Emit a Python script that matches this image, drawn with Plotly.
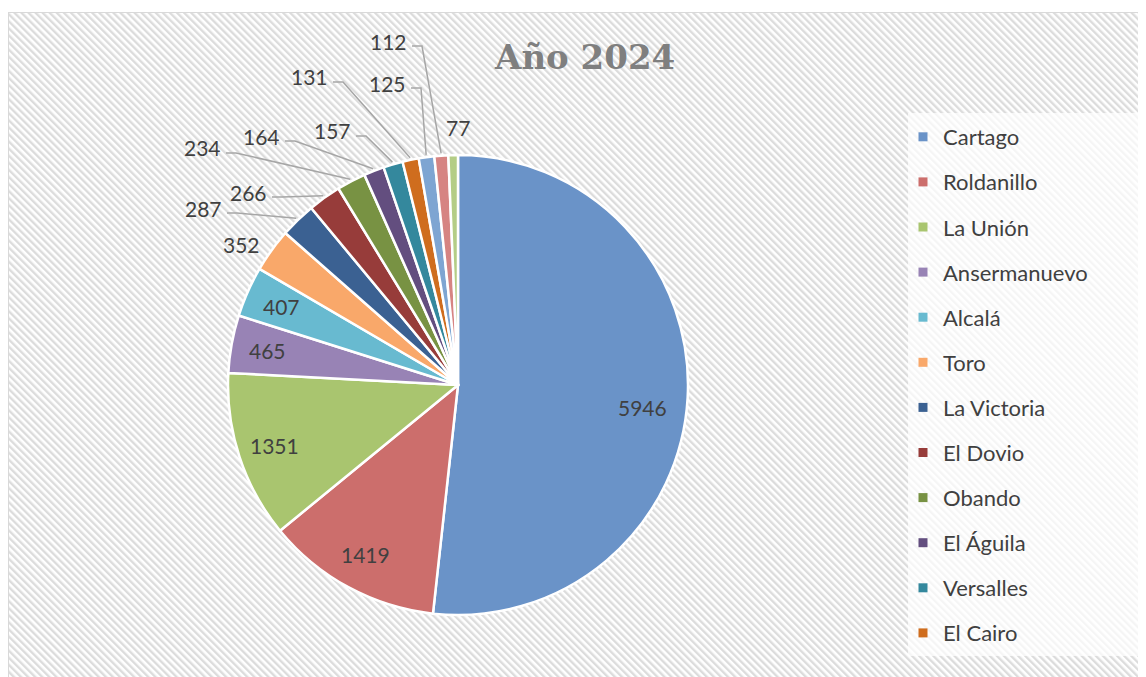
import base64
import math
import plotly.graph_objects as go

# ---------------- data ----------------
municipios = ["Cartago", "Roldanillo", "La Unión", "Ansermanuevo", "Alcalá", "Toro",
              "La Victoria", "El Dovio", "Obando", "El Águila", "Versalles", "El Cairo",
              "Argelia", "Ulloa", "Bolívar"]
casos = [5946, 1419, 1351, 465, 407, 352, 287, 266, 234, 164, 157, 131, 125, 112, 77]
legend_count = 12  # the reference legend only lists the first 12 entries

# ---------------- styles ----------------
colors = ["#6a93c8", "#cc6e6c", "#a9c56f", "#9883b5", "#68bad0", "#f9a86a",
          "#3b6192", "#973c3a", "#789243", "#634e7f", "#34889d", "#cf6d1e",
          "#7ea5d2", "#d68482", "#b4cd86"]
PAGE_OFF = 8                      # default body margin of the html page
W, H = 1146 - PAGE_OFF, 677 - PAGE_OFF
CX, CY, R = 458, 385, 230         # pie centre / radius in page pixels
TXT = "#404040"
FONT = "Lato"

# outside label placement: (text centre in page px, leader line?)
label_layout = {
    6: ((203, 208), True), 7: ((248, 192), True), 8: ((202, 148), True),
    9: ((261, 136), True), 10: ((332, 131), True), 11: ((309, 77), True),
    12: ((387, 83), True), 13: ((388, 41), True), 14: ((458, 127), False),
    5: ((242, 244), False),
}
inside_factor = 0.84
inside_shift = {0: (-8, 12)}      # small nudge of the big-slice label (px)


def X(px):
    return (px - PAGE_OFF) / W


def Y(py):
    return 1 - (py - PAGE_OFF) / H


total = sum(casos)
fig = go.Figure()

fig.add_trace(go.Pie(
    labels=municipios, values=casos, sort=False, direction="clockwise", rotation=0,
    marker=dict(colors=colors, line=dict(color="white", width=2.5)),
    textinfo="none", showlegend=False, hoverinfo="label+value",
    domain=dict(x=[X(CX - R), X(CX + R)], y=[Y(CY + R), Y(CY - R)]),
))

# legend via marker-only entries
for i in range(legend_count):
    fig.add_trace(go.Scatter(
        x=[None], y=[None], mode="markers", name=municipios[i], legendgroup=municipios[i],
        marker=dict(symbol="square", size=9, color=colors[i]), hoverinfo="skip"))

annotations = []
shapes = []
cum = 0
for i, v in enumerate(casos):
    mid = (cum + v / 2) / total
    cum += v
    ang = 2 * math.pi * mid
    s, c = math.sin(ang), math.cos(ang)
    if i in label_layout:
        (tx, ty), leader = label_layout[i]
        annotations.append(dict(x=X(tx), y=Y(ty), xref="paper", yref="paper", text=str(v),
                                xanchor="center", yanchor="middle", showarrow=False,
                                font=dict(family=FONT, size=21, color=TXT)))
        if leader:
            ex, ey = CX + R * 1.01 * s, CY - R * 1.01 * c
            lx, ly = tx + 24, ty + 5
            shapes.append(dict(type="path", xref="paper", yref="paper",
                               path=f"M {X(lx)},{Y(ly)} L {X(lx + 10)},{Y(ly)} L {X(ex)},{Y(ey)}",
                               line=dict(color="#a6a6a6", width=1.5)))
    else:
        r = R * inside_factor
        dx, dy = inside_shift.get(i, (0, 0))
        annotations.append(dict(x=X(CX + r * s + dx), y=Y(CY - r * c + dy), xref="paper", yref="paper",
                                text=str(v), xanchor="center", yanchor="middle", showarrow=False,
                                font=dict(family=FONT, size=21, color=TXT)))

annotations.append(dict(x=X(584), y=Y(57), xref="paper", yref="paper", text="<b>Año 2024</b>",
                        xanchor="center", yanchor="middle", showarrow=False,
                        font=dict(family="DejaVu Serif", size=34, color="#7f7f7f")))

# striped chart-area background
svg = f'''<svg xmlns="http://www.w3.org/2000/svg" width="{W}" height="{H}">
<defs><pattern id="p" patternUnits="userSpaceOnUse" width="5" height="5" patternTransform="rotate(-45)">
<rect width="5" height="5" fill="#ffffff"/><rect width="2.4" height="5" fill="#dcdcdc"/></pattern></defs>
<rect width="{W}" height="{H}" fill="#ffffff"/>
<rect x="0.5" y="4.5" width="{W + 10}" height="{H + 10}" fill="url(#p)" stroke="#d9d9d9" stroke-width="1"/>
</svg>'''
src = "data:image/svg+xml;base64," + base64.b64encode(svg.encode()).decode()

shapes.append(dict(type="rect", xref="paper", yref="paper", x0=X(908), x1=1, y0=Y(656), y1=Y(113),
                   fillcolor="rgba(255,255,255,0.72)", line=dict(width=0), layer="below"))

fig.update_layout(
    width=W, height=H, margin=dict(l=0, r=0, t=0, b=0),
    paper_bgcolor="white", plot_bgcolor="rgba(0,0,0,0)",
    xaxis=dict(visible=False), yaxis=dict(visible=False),
    images=[dict(source=src, xref="paper", yref="paper", x=0, y=1, sizex=1, sizey=1,
                 sizing="stretch", layer="below", xanchor="left", yanchor="top")],
    annotations=annotations, shapes=shapes,
    legend=dict(x=X(903), y=Y(116), xanchor="left", yanchor="top", bgcolor="rgba(0,0,0,0)",
                font=dict(family=FONT, size=22, color=TXT), tracegroupgap=13.5,
                itemclick=False, itemdoubleclick=False),
    showlegend=True,
)

fig.write_html("out.html")
